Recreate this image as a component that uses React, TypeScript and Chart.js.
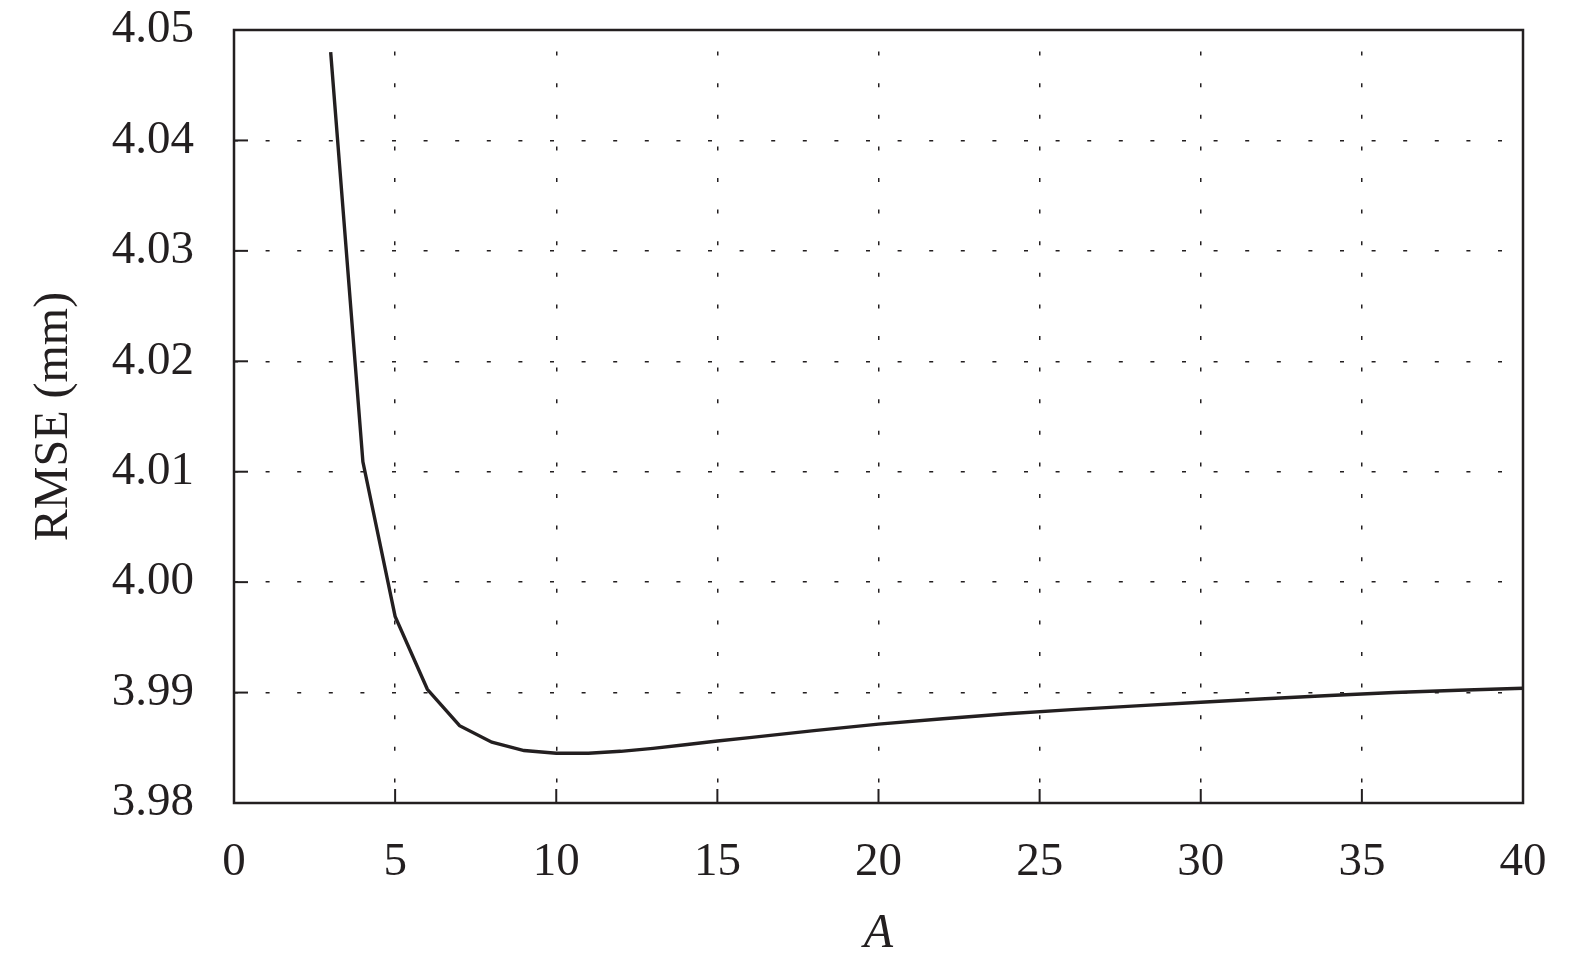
import React, { useEffect, useRef } from "react";
import { Chart, registerables } from "chart.js";

Chart.register(...registerables);

const A_VALUES: number[] = [3, 4, 5, 6, 7, 8, 9, 10, 11, 12, 13, 14, 15, 16, 17, 18, 19, 20, 22, 24, 26, 28, 30, 32, 34, 36, 38, 40];
const RMSE_VALUES: number[] = [
  4.048, 4.0109, 3.9969, 3.9903, 3.987, 3.9855, 3.98475, 3.98451, 3.9845, 3.98468,
  3.98495, 3.98528, 3.98562, 3.98592, 3.98624, 3.98655, 3.98685, 3.98714, 3.98763,
  3.98808, 3.98846, 3.9888, 3.98912, 3.98944, 3.98974, 3.99, 3.99021, 3.99039,
];
const X_TICKS: number[] = [0, 5, 10, 15, 20, 25, 30, 35, 40];
const Y_TICKS: number[] = [3.98, 3.99, 4.0, 4.01, 4.02, 4.03, 4.04, 4.05];
const X_TITLE = "A";
const Y_TITLE = "RMSE (mm)";

const INK = "#231f20";
const FONT = "'Liberation Serif', 'Times New Roman', serif";

const framePlugin = {
  id: "frameAndTicks",
  afterDatasetsDraw(chart: any) {
    const { ctx, chartArea, scales } = chart;
    const { left, right, top, bottom } = chartArea;
    ctx.save();
    ctx.strokeStyle = INK;
    ctx.lineWidth = 2.5;
    ctx.setLineDash([]);
    ctx.strokeRect(left, top, right - left, bottom - top);
    ctx.lineWidth = 2;
    const len = 14;
    X_TICKS.forEach((v) => {
      const px = scales.x.getPixelForValue(v);
      ctx.beginPath();
      ctx.moveTo(px, bottom);
      ctx.lineTo(px, bottom - len);
      ctx.stroke();
    });
    Y_TICKS.forEach((v) => {
      const py = scales.y.getPixelForValue(v);
      ctx.beginPath();
      ctx.moveTo(left, py);
      ctx.lineTo(left + len, py);
      ctx.stroke();
    });
    ctx.restore();
  },
};

export default function App() {
  const ref = useRef<HTMLCanvasElement | null>(null);

  useEffect(() => {
    if (!ref.current) return;
    const chart = new Chart(ref.current, {
      type: "line",
      data: {
        datasets: [
          {
            data: A_VALUES.map((a, i) => ({ x: a, y: RMSE_VALUES[i] })),
            borderColor: INK,
            borderWidth: 3.4,
            pointRadius: 0,
            tension: 0,
            fill: false,
          },
        ],
      },
      options: {
        animation: false,
        responsive: false,
        devicePixelRatio: 1,
        layout: { padding: { top: 30, right: 52, left: 0, bottom: 0 } },
        plugins: { legend: { display: false }, tooltip: { enabled: false } },
        scales: {
          x: {
            type: "linear",
            min: 0,
            max: 40,
            afterFit: (s: any) => {
              s.height = 162;
              s.paddingLeft = 0;
              s.paddingRight = 0;
            },
            afterBuildTicks: (s: any) => {
              s.ticks = X_TICKS.map((v) => ({ value: v }));
            },
            ticks: {
              color: INK,
              font: { family: FONT, size: 47 },
              padding: 31,
              maxRotation: 0,
              callback: (v: any) => String(v),
            },
            grid: {
              drawTicks: false,
              color: INK,
              lineWidth: 1.5,
            },
            border: { display: false, dash: [4, 27.6], dashOffset: 10 } as any,
            title: {
              display: true,
              text: X_TITLE,
              color: INK,
              font: { family: FONT, size: 48, style: "italic" },
              padding: { top: 0, bottom: 2 },
            },
          },
          y: {
            type: "linear",
            min: 3.98,
            max: 4.05,
            afterFit: (s: any) => {
              s.width = 234;
              s.paddingTop = 0;
              s.paddingBottom = 0;
            },
            afterBuildTicks: (s: any) => {
              s.ticks = Y_TICKS.map((v) => ({ value: v }));
            },
            ticks: {
              color: INK,
              font: { family: FONT, size: 47 },
              padding: 40,
              callback: (v: any) => Number(v).toFixed(2),
            },
            grid: {
              drawTicks: false,
              color: INK,
              lineWidth: 1.5,
            },
            border: { display: false, dash: [4, 27.6], dashOffset: 0 } as any,
            title: {
              display: true,
              text: Y_TITLE,
              color: INK,
              font: { family: FONT, size: 48 },
              padding: { top: 26, bottom: 0 },
            },
          },
        },
      },
      plugins: [framePlugin],
    } as any);
    return () => chart.destroy();
  }, []);

  return (
    <div style={{ position: "absolute", left: 0, top: 0, width: 1575, height: 965, background: "#fff" }}>
      <canvas ref={ref} width={1575} height={965} style={{ display: "block" }} />
    </div>
  );
}
